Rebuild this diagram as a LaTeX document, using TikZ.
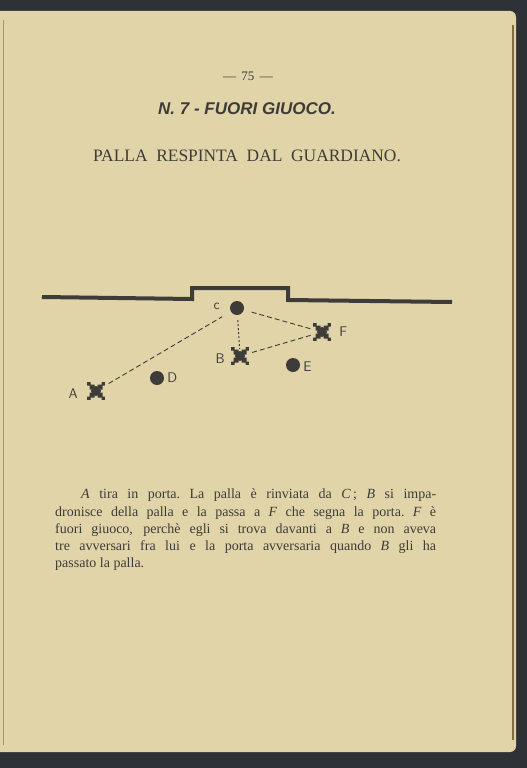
\documentclass[tikz,border=0pt]{standalone}
\usepackage{fontspec}
\setmainfont{Liberation Serif}
\newfontfamily\headfont{Liberation Sans}
\usetikzlibrary{positioning}
\definecolor{paper}{RGB}{224,212,168}
\definecolor{desk}{RGB}{46,50,54}
\definecolor{ink}{RGB}{62,60,56}
\definecolor{fold}{RGB}{130,108,72}
\tikzstyle{ball}=[circle,fill=ink,minimum size=14pt,inner sep=0pt]
\tikzstyle{player}=[rectangle,minimum size=18pt,inner sep=0pt,
  path picture={
    \fill[ink] (path picture bounding box.center) circle (5pt);
    \foreach \sx in {-1,1} \foreach \sy in {-1,1}
      \fill[ink] ([shift={(\sx*5.5pt,\sy*5.5pt)}]path picture bounding box.center) rectangle +(\sx*3.4pt,\sy*3.4pt)
                 ([shift={(\sx*1.5pt,\sy*1.5pt)}]path picture bounding box.center) rectangle +(\sx*5pt,\sy*5pt);
  }]
\tikzstyle{tag}=[font=\sffamily\fontsize{14}{14}\selectfont,text=ink,inner sep=0pt]
\tikzstyle{pass}=[ink,dash pattern=on 5pt off 3pt,line width=0.9pt]

\begin{document}
\begin{tikzpicture}[x=1pt,y=-1pt]
\useasboundingbox (0,0) rectangle (527,768);
% page
\fill[desk] (0,0) rectangle (527,768);
\fill[paper,rounded corners=6pt] (-8,11) rectangle (516,752);
\draw[fold,line width=2pt] (513,25) -- (513,740);
\draw[fold!60!paper,line width=0.8pt] (3,20) -- (3,745);
% headings
\node (folio) at (248,76) [font=\fontsize{13}{13}\selectfont,text=ink] {--- \,75\, ---};
\node (title) at (247,109) [font=\headfont\bfseries\itshape\fontsize{17}{17}\selectfont,text=ink] {N. 7 - FUORI GIUOCO.};
\node (sub) at (247,156) [font=\fontsize{17.4}{17.4}\selectfont,text=ink] {PALLA\ \ RESPINTA\ \ DAL\ \ GUARDIANO.};
% goal line
\draw[ink,line width=4pt] (42,297) -- (192,299) -- (192,288) -- (288,288) -- (288,300) -- (452,302);
% players and balls
\node (C) at (237,308) [ball] {};
\node (F) at (322,332) [player] {};
\node (B) at (240,356) [player] {};
\node (E) at (293,365) [ball] {};
\node (D) at (157,378) [ball] {};
\node (A) at (96,391) [player] {};
\node (lC) [tag,left=10pt of C,yshift=2pt] {c};
\node (lF) [tag,right=8pt of F] {F};
\node (lB) [tag,left=6pt of B,yshift=-3pt] {B};
\node (lE) [tag,right=3pt of E,yshift=-2pt] {E};
\node (lD) [tag,right=3pt of D] {D};
\node (lA) [tag,left=9pt of A,yshift=-3pt] {A};
\draw[pass,shorten <=4pt,shorten >=10pt] (A) -- (C);
\draw[pass,shorten <=8pt] (C) -- (F);
\draw[pass,shorten <=3pt,shorten >=2pt] (B) -- (F);
\draw[ink,line width=1pt,dash pattern=on 2pt off 2pt,shorten <=5pt,shorten >=-2pt] (C) -- (B);
% text
\node (caption) at (55,489) [anchor=north west,inner sep=0pt,text width=381pt,align=justify,
  font=\fontsize{14}{17.2}\selectfont,text=ink]
  {\hspace*{26pt}\textit{A}\ tira in porta.\ La palla è rinviata\ da \textit{C}\,;\ \textit{B}\ si impa-\linebreak
   dronisce della palla e la passa a \textit{F}\ che segna la porta.\ \textit{F} è\linebreak
   fuori giuoco, perchè egli si trova\ davanti a\ \textit{B}\ e non aveva\linebreak
   tre avversari fra lui e la porta\ avversaria\ quando\ \textit{B}\ gli ha\linebreak
   passato la palla.};
\end{tikzpicture}
\end{document}
